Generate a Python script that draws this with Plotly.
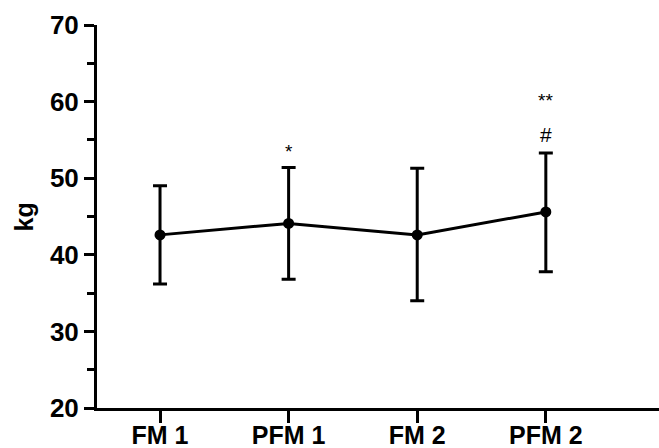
import plotly.graph_objects as go

categories = ["FM 1", "PFM 1", "FM 2", "PFM 2"]
means = [42.6, 44.1, 42.6, 45.6]
upper = [49.0, 51.4, 51.3, 53.3]
lower = [36.2, 36.8, 34.0, 37.8]
sig_labels = ["", "*", "", "**"]
sig_y = [None, 53.5, None, 60.2]
hash_labels = ["", "", "", "#"]
hash_y = [None, None, None, 55.7]

err_plus = [u - m for u, m in zip(upper, means)]
err_minus = [m - l for m, l in zip(means, lower)]
xidx = list(range(len(categories)))

FONT = "Liberation Sans, Arial, sans-serif"

fig = go.Figure()
fig.add_trace(go.Scatter(
    x=xidx, y=means, mode="lines+markers",
    line=dict(color="black", width=3),
    marker=dict(color="black", size=11),
    error_y=dict(type="data", symmetric=False, array=err_plus, arrayminus=err_minus,
                 color="black", thickness=3, width=7),
    showlegend=False,
))

for i in xidx:
    if sig_labels[i]:
        fig.add_annotation(x=i, y=sig_y[i], text=sig_labels[i], showarrow=False,
                           font=dict(family=FONT, size=19, color="black"))
    if hash_labels[i]:
        fig.add_annotation(x=i, y=hash_y[i], text=hash_labels[i], showarrow=False,
                           font=dict(family=FONT, size=21, color="black"))

fig.add_annotation(xref="paper", yref="paper", x=-0.13, y=0.5, xanchor="center", yanchor="middle",
                   text="<b>kg</b>", textangle=-90, showarrow=False,
                   font=dict(family=FONT, size=25, color="black"))

fig.update_layout(
    width=659, height=448,
    margin=dict(l=97, r=0, t=25, b=40),
    paper_bgcolor="white", plot_bgcolor="white",
    font=dict(family=FONT, color="black"),
)
fig.update_xaxes(
    range=[-0.49, 3.88], tickmode="array", tickvals=xidx, ticktext=categories,
    showline=True, linecolor="black", linewidth=3, ticks="outside", ticklen=12,
    tickwidth=3, tickcolor="black", showgrid=False, zeroline=False, automargin=False,
    ticklabelstandoff=-9,
    tickfont=dict(family=FONT, size=25, color="black", weight="bold"),
)
fig.update_yaxes(
    range=[20, 70], tickmode="linear", tick0=20, dtick=10,
    showline=True, linecolor="black", linewidth=3, ticks="outside", ticklen=10,
    tickwidth=3, tickcolor="black", showgrid=False, zeroline=False, automargin=False,
    minor=dict(ticks="outside", ticklen=7, tickwidth=3, tickcolor="black", dtick=5, tick0=20, showgrid=False),
    tickfont=dict(family=FONT, size=26, color="black", weight="bold"),
)

fig.write_html("out.html", config={"displayModeBar": False},
               post_script="document.body.style.margin='0';document.body.style.overflow='hidden';")
